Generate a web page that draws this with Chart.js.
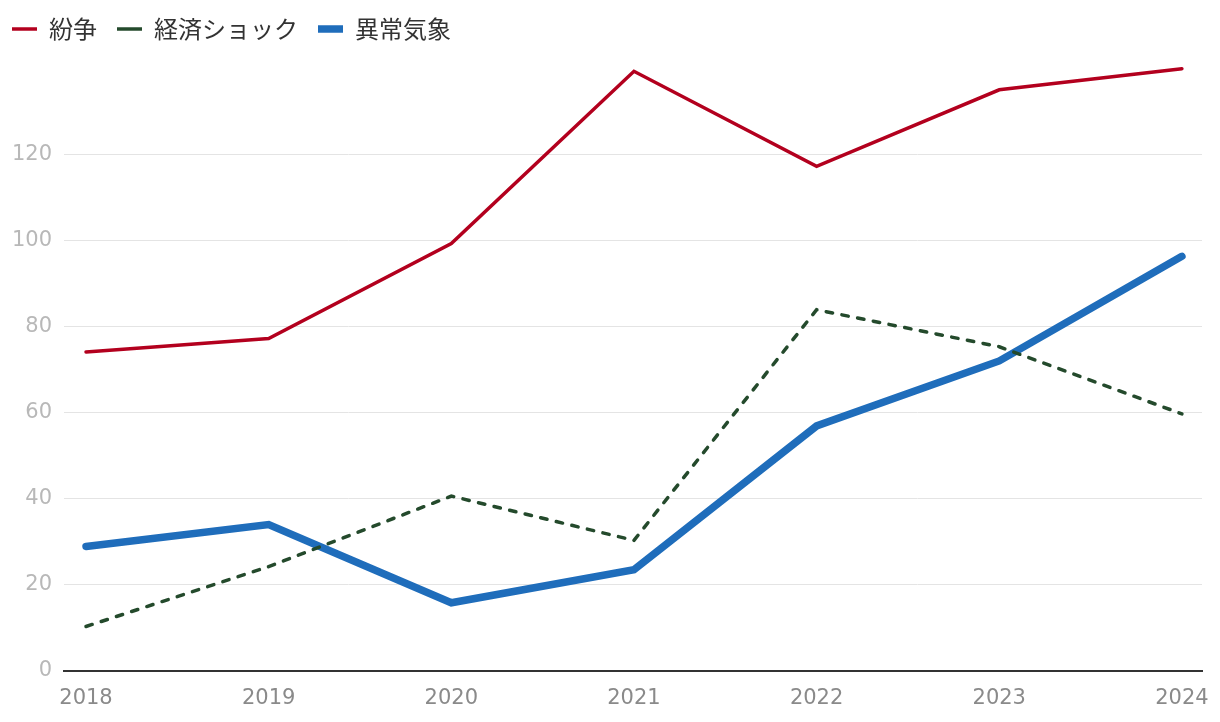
<!DOCTYPE html>
<html>
<head>
<meta charset="utf-8">
<script src="https://cdn.jsdelivr.net/npm/chart.js@4"></script>
<style>
  html, body { margin: 0; padding: 0; background: #fff; }
  #wrap { width: 1220px; height: 722px; }
</style>
</head>
<body>
<div id="wrap"><canvas id="chart"></canvas></div>
<script>
// years on the x axis
var years = [2018, 2019, 2020, 2021, 2022, 2023, 2024];

// series
var conflict = [74.1, 77.2, 99.3, 139.3, 117.2, 135.0, 139.9];
var economicShock = [10.3, 24.2, 40.6, 30.3, 83.9, 75.3, 59.7];
var extremeWeather = [28.9, 34.0, 15.8, 23.5, 56.9, 72.0, 96.3];

var seriesNames = ['紛争', '経済ショック', '異常気象'];
var yTicks = [0, 20, 40, 60, 80, 100, 120];

function toPoints(values) {
	return values.map(function(v, i) { return { x: years[i], y: v }; });
}

var jpFont = '"Noto Sans CJK JP", "Noto Sans", sans-serif';
var numFont = '"DejaVu Sans", sans-serif';

// more room under the legend, and nudge the legend up/left
var legendGap = {
	id: 'legendGap',
	beforeInit: function(chart) {
		var fit = chart.legend.fit;
		chart.legend.fit = function() {
			fit.bind(chart.legend)();
			this.height += 7;
		};
	},
	afterLayout: function(chart) {
		chart.legend.left -= 8;
		chart.legend.top -= 6;
	}
};

var config = {
	type: 'line',
	data: {
		datasets: [
			{
				label: seriesNames[0],
				data: toPoints(conflict),
				borderColor: '#b3001e',
				backgroundColor: '#b3001e',
				borderWidth: 3.5,
				borderCapStyle: 'round',
				pointRadius: 0,
				tension: 0
			},
			{
				label: seriesNames[1],
				data: toPoints(economicShock),
				borderColor: '#244a2c',
				backgroundColor: '#244a2c',
				borderWidth: 3.5,
				borderDash: [6.5, 9.5],
				borderCapStyle: 'round',
				pointRadius: 0,
				tension: 0
			},
			{
				label: seriesNames[2],
				data: toPoints(extremeWeather),
				borderColor: '#1f6dbb',
				backgroundColor: '#1f6dbb',
				borderWidth: 7.5,
				borderCapStyle: 'round',
				pointRadius: 0,
				tension: 0
			}
		]
	},
	options: {
		responsive: true,
		maintainAspectRatio: false,
		animation: false,
		layout: { padding: { left: 0, right: 18, top: 3, bottom: 7 } },
		plugins: {
			tooltip: { enabled: false },
			legend: {
				position: 'top',
				align: 'start',
				labels: {
					usePointStyle: true,
					pointStyleWidth: 25,
					pointStyle: 'line',
					boxHeight: 20,
					padding: 20,
					color: '#333',
					font: { family: jpFont, size: 24 }
				}
			}
		},
		scales: {
			x: {
				type: 'linear',
				min: 2017.88,
				max: 2024.11,
				// tick marks are hidden, their length just spaces the labels
				grid: { display: false, drawTicks: true, tickLength: 11 },
				border: { display: true, color: '#333', width: 2 },
				ticks: {
					stepSize: 1,
					includeBounds: false,
					color: '#8a8a8a',
					padding: 4,
					maxRotation: 0,
					font: { family: numFont, size: 21 },
					callback: function(v) { return years.indexOf(v) >= 0 ? String(v) : ''; }
				}
			},
			y: {
				min: 0,
				max: 141,
				grid: { color: '#e4e4e4', lineWidth: 1, drawTicks: false },
				border: { display: false },
				afterBuildTicks: function(axis) {
					axis.ticks = yTicks.map(function(v) { return { value: v }; });
				},
				ticks: {
					color: '#b8b8b8',
					padding: 12,
					font: { family: numFont, size: 21 }
				}
			}
		}
	},
	plugins: [legendGap]
};

new Chart(document.getElementById('chart'), config);
</script>
</body>
</html>
